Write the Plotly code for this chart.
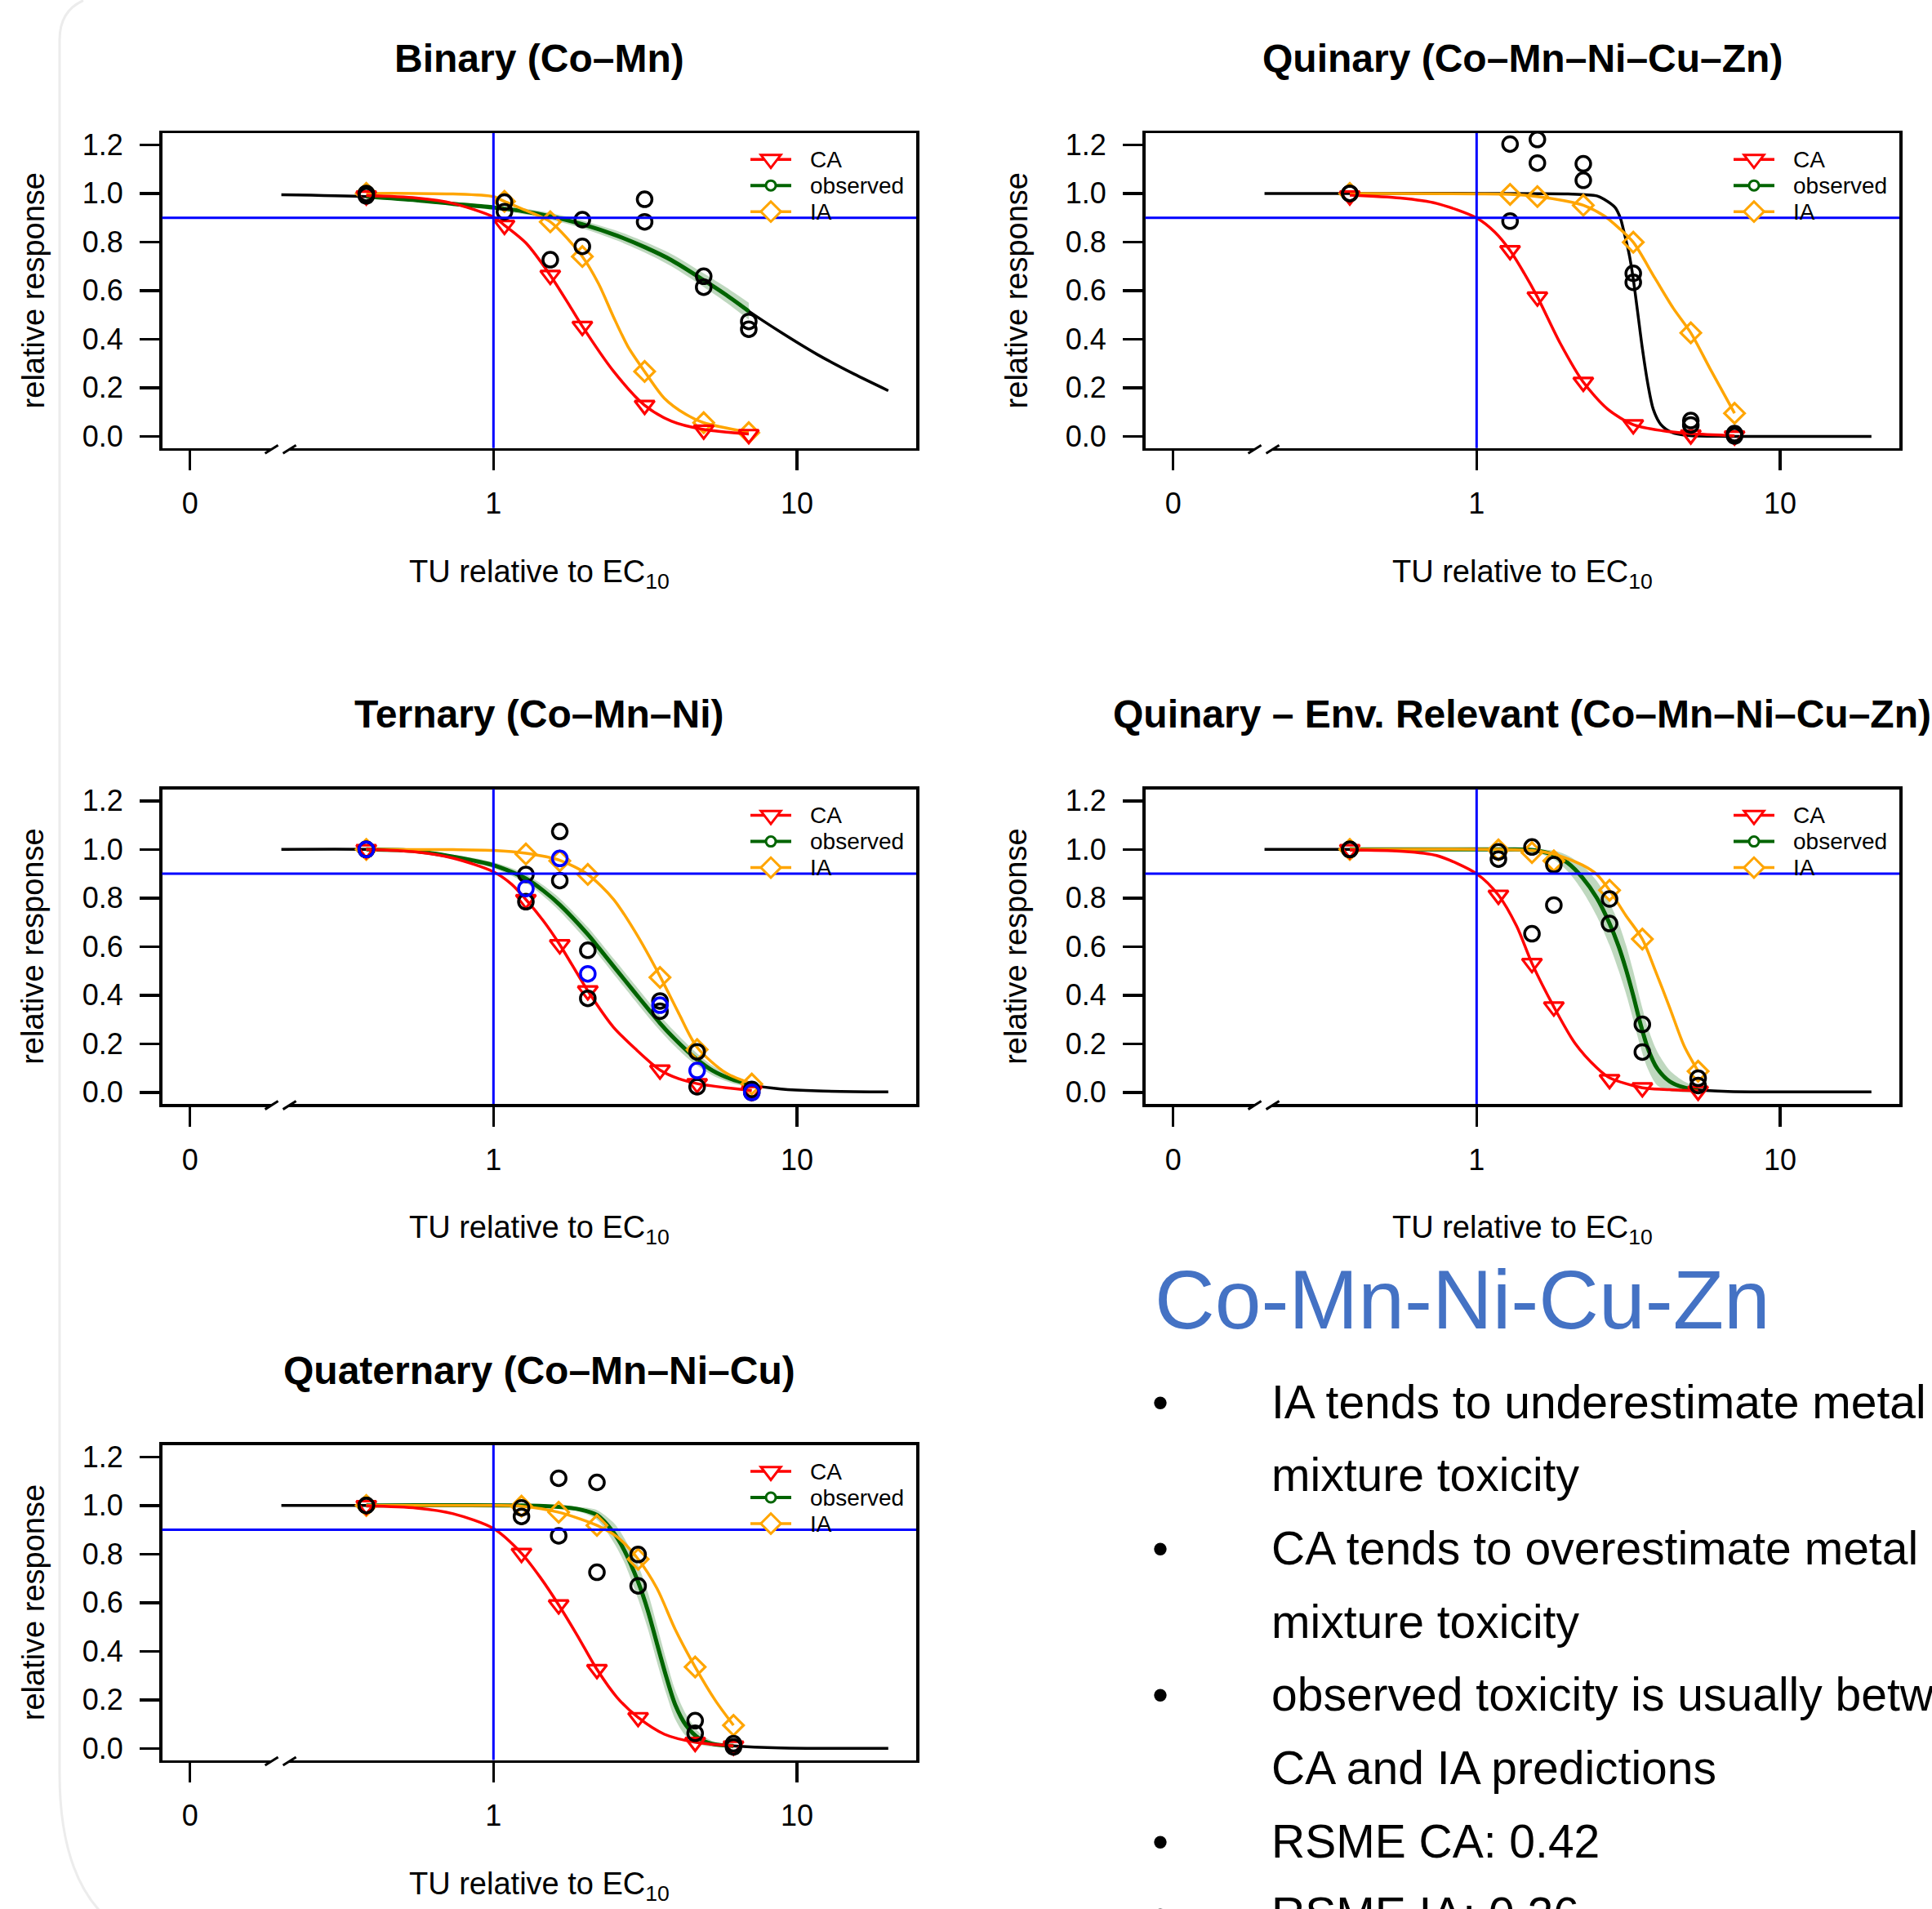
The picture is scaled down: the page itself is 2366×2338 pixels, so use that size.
import math
import plotly.graph_objects as go

W, H = 2366, 2338
# the photographed page is slightly squeezed vertically; pre-compensate (measured)
Y_SCALE, Y_OFF = 0.9942, 5.4

# ---------------- data ----------------
# x = TU relative to EC10, y = relative response

# Binary (Co-Mn)
bin_conc = [0.381, 1.087, 1.539, 1.963, 3.149, 4.93, 6.94]
bin_ca = [0.99, 0.869, 0.663, 0.453, 0.128, 0.026, 0.008]
bin_ia = [1.0, 0.967, 0.883, 0.74, 0.267, 0.056, 0.015]
bin_obs_x = [0.381, 0.381, 1.087, 1.087, 1.539, 1.963, 1.963, 3.149, 3.149, 4.93, 4.93, 6.94, 6.94]
bin_obs_y = [1.0, 0.99, 0.964, 0.925, 0.727, 0.892, 0.782, 0.976, 0.883, 0.659, 0.614, 0.473, 0.441]
bin_ca_cx = [0.381, 0.558, 0.736, 1.0, 1.087, 1.279, 1.539, 1.782, 1.963, 2.483, 3.149, 3.864, 4.93, 6.94]
bin_ca_cy = [0.991, 0.981, 0.959, 0.903, 0.869, 0.796, 0.663, 0.538, 0.453, 0.269, 0.128, 0.062, 0.028, 0.01]
bin_ia_cx = [0.381, 0.736, 1.0, 1.087, 1.279, 1.539, 1.963, 2.22, 2.483, 2.773, 3.149, 3.655, 4.31, 4.93, 6.94]
bin_ia_cy = [1.0, 0.998, 0.987, 0.967, 0.93, 0.883, 0.74, 0.628, 0.493, 0.37, 0.267, 0.157, 0.09, 0.056, 0.017]
bin_fit_x = [0.2, 0.381, 0.558, 0.736, 1.0, 1.279, 1.539, 1.963, 2.553, 3.149, 3.864, 4.93, 5.85, 6.94,
             8.86, 11.67, 15.4, 20.0]
bin_fit_y = [0.995, 0.987, 0.972, 0.957, 0.942, 0.925, 0.906, 0.873, 0.826, 0.779, 0.725, 0.643, 0.582, 0.515,
             0.428, 0.337, 0.257, 0.188]
bin_band_lo = [0.982, 0.966, 0.949, 0.932, 0.913, 0.892, 0.857, 0.806, 0.757, 0.70, 0.615, 0.551, 0.48]
bin_band_hi = [0.992, 0.978, 0.965, 0.952, 0.937, 0.92, 0.889, 0.846, 0.801, 0.75, 0.671, 0.613, 0.55]

# Quinary (Co-Mn-Ni-Cu-Zn)
qui_conc = [0.382, 1.289, 1.586, 2.247, 3.283, 5.08, 7.08]
qui_ca = [0.99, 0.765, 0.574, 0.223, 0.048, 0.006, 0.002]
qui_ia = [1.0, 0.996, 0.987, 0.951, 0.799, 0.426, 0.095]
qui_obs_x = [0.382, 0.382, 1.289, 1.289, 1.586, 1.586, 2.247, 2.247, 3.283, 3.283, 5.08, 5.08, 7.08, 7.08]
qui_obs_y = [1.0, 1.0, 1.203, 0.886, 1.222, 1.125, 1.122, 1.054, 0.671, 0.634, 0.065, 0.047, 0.011, 0.002]
qui_ca_cx = [0.382, 0.56, 0.738, 1.0, 1.148, 1.289, 1.432, 1.586, 1.888, 2.247, 2.704, 3.283, 4.10, 5.08, 7.08]
qui_ca_cy = [0.993, 0.981, 0.959, 0.899, 0.841, 0.765, 0.673, 0.574, 0.382, 0.223, 0.112, 0.048, 0.023, 0.011, 0.002]
qui_ia_cx = [0.382, 1.0, 1.289, 1.586, 1.94, 2.247, 2.63, 2.94, 3.283, 3.87, 4.45, 5.08, 5.87, 7.08]
qui_ia_cy = [1.0, 0.998, 0.996, 0.987, 0.970, 0.951, 0.908, 0.858, 0.799, 0.651, 0.527, 0.426, 0.28, 0.095]
qui_fit_x = [0.2, 0.5, 1.0, 2.0, 2.49, 2.63, 2.86, 2.98, 3.06, 3.18, 3.28, 3.39, 3.52, 3.67, 3.82, 4.04,
             4.39, 4.97, 6.74, 20.0]
qui_fit_y = [1.0, 1.0, 1.0, 0.998, 0.99, 0.976, 0.942, 0.897, 0.841, 0.751, 0.651, 0.516, 0.359, 0.213, 0.112,
             0.050, 0.017, 0.004, 0.0, 0.0]

# Ternary (Co-Mn-Ni)
ter_conc = [0.381, 1.279, 1.654, 2.046, 3.538, 4.69, 7.10]
ter_ca = [1.0, 0.794, 0.608, 0.418, 0.092, 0.036, 0.005]
ter_ia = [1.0, 0.981, 0.953, 0.897, 0.473, 0.176, 0.034]
ter_obs_x = [0.381, 0.381, 1.279, 1.279, 1.654, 1.654, 2.046, 2.046, 3.538, 3.538, 4.69, 4.69, 7.10, 7.10]
ter_obs_y = [1.0, 1.0, 0.897, 0.785, 1.074, 0.872, 0.585, 0.387, 0.376, 0.334, 0.167, 0.023, 0.012, 0.0]
ter_obs2_x = [0.381, 1.279, 1.654, 2.046, 3.538, 4.69, 7.10]
ter_obs2_y = [1.0, 0.839, 0.963, 0.488, 0.359, 0.090, 0.0]
ter_ca_cx = [0.381, 0.558, 0.736, 1.0, 1.145, 1.279, 1.46, 1.654, 2.046, 2.483, 2.93, 3.538, 4.08, 4.69,
             5.85, 7.10]
ter_ca_cy = [1.0, 0.989, 0.964, 0.908, 0.858, 0.794, 0.706, 0.608, 0.418, 0.269, 0.18, 0.092, 0.056, 0.036,
             0.019, 0.008]
ter_ia_cx = [0.381, 0.736, 1.0, 1.279, 1.654, 2.046, 2.483, 2.93, 3.538, 4.08, 4.69, 5.85, 7.10]
ter_ia_cy = [1.0, 0.999, 0.996, 0.984, 0.955, 0.897, 0.796, 0.661, 0.478, 0.325, 0.185, 0.079, 0.036]
ter_fit_x = [0.2, 0.381, 0.558, 0.736, 1.0, 1.279, 1.46, 1.654, 2.046, 2.23, 2.54, 2.84, 3.30, 3.538,
             3.87, 4.37, 4.69, 5.27, 6.07, 7.10, 8.86, 11.67, 20.0]
ter_fit_y = [1.0, 1.0, 0.993, 0.97, 0.935, 0.88, 0.83, 0.772, 0.65, 0.593, 0.505, 0.43, 0.33, 0.285,
             0.232, 0.168, 0.135, 0.09, 0.055, 0.03, 0.014, 0.006, 0.002]
ter_band_lo = [0.998, 0.989, 0.962, 0.923, 0.862, 0.808, 0.746, 0.62, 0.562, 0.473, 0.398, 0.298, 0.254,
               0.202, 0.14, 0.11, 0.07, 0.039, 0.018]
ter_band_hi = [1.0, 0.997, 0.978, 0.947, 0.898, 0.852, 0.798, 0.68, 0.624, 0.537, 0.462, 0.362, 0.316,
               0.262, 0.196, 0.16, 0.11, 0.071, 0.042]

# Quinary - Env. Relevant (Co-Mn-Ni-Cu-Zn)
env_conc = [0.382, 1.18, 1.522, 1.797, 2.742, 3.517, 5.37]
env_ca = [1.0, 0.812, 0.531, 0.352, 0.053, 0.019, 0.005]
env_ia = [1.0, 0.998, 0.987, 0.953, 0.832, 0.631, 0.087]
env_obs_x = [0.382, 0.382, 1.18, 1.18, 1.522, 1.522, 1.797, 1.797, 2.742, 2.742, 3.517, 3.517, 5.37, 5.37]
env_obs_y = [1.0, 1.0, 0.99, 0.96, 1.01, 0.653, 0.937, 0.771, 0.796, 0.695, 0.28, 0.166, 0.058, 0.028]
env_ca_cx = [0.382, 0.56, 0.738, 1.0, 1.18, 1.355, 1.522, 1.797, 2.11, 2.49, 2.742, 3.517, 4.33, 5.37]
env_ca_cy = [0.998, 0.993, 0.975, 0.9, 0.812, 0.684, 0.531, 0.352, 0.202, 0.101, 0.06, 0.019, 0.011, 0.006]
env_ia_cx = [0.382, 1.18, 1.522, 1.797, 2.23, 2.49, 2.742, 3.10, 3.517, 3.87, 4.33, 4.83, 5.37]
env_ia_cy = [1.0, 1.0, 0.996, 0.981, 0.936, 0.897, 0.832, 0.729, 0.631, 0.505, 0.348, 0.191, 0.087]
env_fit_x = [0.2, 0.382, 1.18, 1.522, 1.797, 1.995, 2.23, 2.49, 2.742, 2.94, 3.10, 3.28, 3.47, 3.67, 3.93,
             4.33, 4.83, 5.37, 6.73, 20.0]
env_fit_y = [1.0, 1.0, 1.0, 0.998, 0.978, 0.945, 0.885, 0.80, 0.695, 0.60, 0.51, 0.40, 0.28, 0.18, 0.10,
             0.045, 0.02, 0.01, 0.004, 0.002]
env_band_lo = [1.0, 0.999, 0.993, 0.958, 0.91, 0.83, 0.725, 0.605, 0.50, 0.41, 0.30, 0.185, 0.095, 0.03,
               0.005, 0.0, 0.0]
env_band_hi = [1.0, 1.0, 1.0, 0.995, 0.975, 0.935, 0.87, 0.78, 0.695, 0.61, 0.50, 0.375, 0.265, 0.17,
               0.09, 0.045, 0.022]

# Quaternary (Co-Mn-Ni-Cu)
qua_conc = [0.381, 1.237, 1.640, 2.193, 2.997, 4.62, 6.18]
qua_ca = [1.0, 0.803, 0.591, 0.325, 0.127, 0.025, 0.01]
qua_ia = [1.0, 0.997, 0.972, 0.918, 0.779, 0.335, 0.095]
qua_obs_x = [0.381, 0.381, 1.237, 1.237, 1.640, 1.640, 2.193, 2.193, 2.997, 2.997, 4.62, 4.62, 6.18, 6.18]
qua_obs_y = [1.0, 1.0, 0.99, 0.955, 1.112, 0.875, 1.095, 0.725, 0.798, 0.669, 0.114, 0.062, 0.019, 0.006]
qua_ca_cx = [0.381, 0.558, 0.736, 1.0, 1.237, 1.428, 1.640, 1.883, 2.193, 2.553, 2.997, 3.66, 4.62, 6.18]
qua_ca_cy = [0.998, 0.989, 0.966, 0.905, 0.803, 0.703, 0.591, 0.468, 0.325, 0.21, 0.127, 0.058, 0.025, 0.01]
qua_ia_cx = [0.381, 1.0, 1.237, 1.640, 2.193, 2.553, 2.997, 3.46, 3.97, 4.62, 5.38, 6.18]
qua_ia_cy = [1.0, 1.0, 0.997, 0.972, 0.918, 0.871, 0.779, 0.658, 0.49, 0.335, 0.198, 0.095]
qua_fit_x = [0.2, 0.381, 1.237, 1.640, 1.935, 2.193, 2.483, 2.70, 2.997, 3.23, 3.46, 3.71, 3.97, 4.31, 4.75,
             5.24, 6.18, 8.86, 20.0]
qua_fit_y = [1.0, 1.0, 1.0, 0.994, 0.983, 0.961, 0.89, 0.815, 0.685, 0.565, 0.43, 0.295, 0.18, 0.095, 0.042,
             0.019, 0.01, 0.002, 0.0]
qua_band_lo = [1.0, 0.999, 0.989, 0.973, 0.941, 0.85, 0.765, 0.615, 0.49, 0.355, 0.225, 0.12, 0.05, 0.017,
               0.007, 0.005]
qua_band_hi = [1.0, 1.0, 0.999, 0.993, 0.981, 0.93, 0.865, 0.755, 0.64, 0.505, 0.365, 0.24, 0.14, 0.067,
               0.031, 0.015]

# axes / labels
X_TICKS = [0.1, 1, 10]
X_TICKTEXT = ["0", "1", "10"]
Y_TICKS = [0.0, 0.2, 0.4, 0.6, 0.8, 1.0, 1.2]
Y_TICKTEXT = ["0.0", "0.2", "0.4", "0.6", "0.8", "1.0", "1.2"]
X_LIMITS = [0.1, 20.0]
Y_LIMITS = [0.0, 1.2]
EC10_AT = 1.0
RESPONSE_90 = 0.9
BREAK_AT = 0.2
LEGEND_LABELS = ["CA", "observed", "IA"]

summary_title = "Co-Mn-Ni-Cu-Zn"
summary_lines = ["IA tends to underestimate metal", "mixture toxicity",
                 "CA tends to overestimate metal", "mixture toxicity",
                 "observed toxicity is usually between", "CA and IA predictions",
                 "RSME CA: 0.42", "RSME IA: 0.26"]
summary_bullet = [True, False, True, False, True, False, True, True]

# ---------------- styling ----------------
FONT = "Liberation Sans, Arial, Helvetica, sans-serif"
TFONT = "Liberation Sans, Arial, sans-serif"
RED, ORANGE, GREEN, BLUE = "#FF0000", "#FFA500", "#006400", "#0000FF"
BAND = "rgba(0,100,0,0.25)"

COL_X0 = [198.5, 1402.5]
ROW_Y0 = [162.4, 965.3, 1768.2]
BOX_W, BOX_H = 923.5, 385.3

lx0, lx1 = math.log10(X_LIMITS[0]), math.log10(X_LIMITS[1])
XR = [lx0 - 0.04 * (lx1 - lx0), lx1 + 0.04 * (lx1 - lx0)]
YR = [Y_LIMITS[0] - 0.04 * (Y_LIMITS[1] - Y_LIMITS[0]), Y_LIMITS[1] + 0.04 * (Y_LIMITS[1] - Y_LIMITS[0])]

panels = [
    dict(title="Binary (Co–Mn)", col=0, row=0, conc=bin_conc, ca=bin_ca, ia=bin_ia,
         obs_x=bin_obs_x, obs_y=bin_obs_y, obs2_x=[], obs2_y=[],
         ca_cx=bin_ca_cx, ca_cy=bin_ca_cy, ia_cx=bin_ia_cx, ia_cy=bin_ia_cy,
         fit_x=bin_fit_x, fit_y=bin_fit_y, band_lo=bin_band_lo, band_hi=bin_band_hi, green=True),
    dict(title="Quinary (Co–Mn–Ni–Cu–Zn)", col=1, row=0, conc=qui_conc, ca=qui_ca, ia=qui_ia,
         obs_x=qui_obs_x, obs_y=qui_obs_y, obs2_x=[], obs2_y=[],
         ca_cx=qui_ca_cx, ca_cy=qui_ca_cy, ia_cx=qui_ia_cx, ia_cy=qui_ia_cy,
         fit_x=qui_fit_x, fit_y=qui_fit_y, band_lo=[], band_hi=[], green=False),
    dict(title="Ternary (Co–Mn–Ni)", col=0, row=1, conc=ter_conc, ca=ter_ca, ia=ter_ia,
         obs_x=ter_obs_x, obs_y=ter_obs_y, obs2_x=ter_obs2_x, obs2_y=ter_obs2_y,
         ca_cx=ter_ca_cx, ca_cy=ter_ca_cy, ia_cx=ter_ia_cx, ia_cy=ter_ia_cy,
         fit_x=ter_fit_x, fit_y=ter_fit_y, band_lo=ter_band_lo, band_hi=ter_band_hi, green=True),
    dict(title="Quinary – Env. Relevant (Co–Mn–Ni–Cu–Zn)", col=1, row=1, conc=env_conc, ca=env_ca, ia=env_ia,
         obs_x=env_obs_x, obs_y=env_obs_y, obs2_x=[], obs2_y=[],
         ca_cx=env_ca_cx, ca_cy=env_ca_cy, ia_cx=env_ia_cx, ia_cy=env_ia_cy,
         fit_x=env_fit_x, fit_y=env_fit_y, band_lo=env_band_lo, band_hi=env_band_hi, green=True),
    dict(title="Quaternary (Co–Mn–Ni–Cu)", col=0, row=2, conc=qua_conc, ca=qua_ca, ia=qua_ia,
         obs_x=qua_obs_x, obs_y=qua_obs_y, obs2_x=[], obs2_y=[],
         ca_cx=qua_ca_cx, ca_cy=qua_ca_cy, ia_cx=qua_ia_cx, ia_cy=qua_ia_cy,
         fit_x=qua_fit_x, fit_y=qua_fit_y, band_lo=qua_band_lo, band_hi=qua_band_hi, green=True),
]


# target image pixel -> paper fraction
def PX(px):
    return px / W


def PY(py):
    return 1 - ((py - Y_OFF) / Y_SCALE) / H


shapes = []
annotations = []


def seg(x0, y0, x1, y1, color, width):
    shapes.append(dict(type="line", xref="paper", yref="paper", x0=PX(x0), y0=PY(y0), x1=PX(x1), y1=PY(y1),
                       line=dict(color=color, width=width), layer="above"))


def poly(pts, color, width, fill="rgba(0,0,0,0)"):
    d = "M " + " L ".join(f"{PX(a):.6f},{PY(b):.6f}" for a, b in pts) + " Z"
    shapes.append(dict(type="path", xref="paper", yref="paper", path=d,
                       line=dict(color=color, width=width), fillcolor=fill, layer="above"))


def text(x, y, s, size, color="black", weight="normal", xanchor="center", yanchor="middle", angle=0,
         family=FONT):
    annotations.append(dict(x=PX(x), y=PY(y), xref="paper", yref="paper", text=s, showarrow=False,
                            xanchor=xanchor, yanchor=yanchor, textangle=angle,
                            font=dict(family=family, size=size, color=color, weight=weight)))


fig = go.Figure()
layout_axes = {}
SPL = dict(shape="spline", smoothing=0.8)

for i, p in enumerate(panels, start=1):
    xa = "x" if i == 1 else f"x{i}"
    ya = "y" if i == 1 else f"y{i}"
    bx0 = COL_X0[p["col"]]
    by0 = ROW_Y0[p["row"]]
    bx1, by1 = bx0 + BOX_W, by0 + BOX_H

    def xpix(v, bx0=bx0):
        return bx0 + (math.log10(v) - XR[0]) / (XR[1] - XR[0]) * BOX_W

    def ypix(v, by0=by0):
        return by0 + (YR[1] - v) / (YR[1] - YR[0]) * BOX_H

    common = dict(xaxis=xa, yaxis=ya, showlegend=False, hoverinfo="skip")
    lo_c, hi_c = p["conc"][0], p["conc"][-1]
    gx = [x for x in p["fit_x"] if lo_c <= x <= hi_c]
    gy = [y for x, y in zip(p["fit_x"], p["fit_y"]) if lo_c <= x <= hi_c]

    if p["band_lo"]:
        fig.add_trace(go.Scatter(x=gx, y=p["band_lo"], mode="lines",
                                 line=dict(width=0, color=BAND, **SPL), **common))
        fig.add_trace(go.Scatter(x=gx, y=p["band_hi"], mode="lines", fill="tonexty", fillcolor=BAND,
                                 line=dict(width=0, color=BAND, **SPL), **common))
    fig.add_trace(go.Scatter(x=p["fit_x"], y=p["fit_y"], mode="lines",
                             line=dict(color="black", width=3.5, **SPL), **common))
    if p["green"]:
        fig.add_trace(go.Scatter(x=gx, y=gy, mode="lines",
                                 line=dict(color=GREEN, width=5, **SPL), **common))
    # IA prediction
    fig.add_trace(go.Scatter(x=p["ia_cx"], y=p["ia_cy"], mode="lines",
                             line=dict(color=ORANGE, width=3.5, **SPL), **common))
    fig.add_trace(go.Scatter(x=p["conc"], y=p["ia"], mode="markers",
                             marker=dict(symbol="diamond-open", size=19, color=ORANGE, line=dict(width=3.2)),
                             **common))
    # CA prediction
    fig.add_trace(go.Scatter(x=p["ca_cx"], y=p["ca_cy"], mode="lines",
                             line=dict(color=RED, width=3.5, **SPL), **common))
    fig.add_trace(go.Scatter(x=p["conc"], y=p["ca"], mode="markers",
                             marker=dict(symbol="triangle-down-open", size=21, color=RED, line=dict(width=3.2)),
                             **common))
    # observations
    fig.add_trace(go.Scatter(x=p["obs_x"], y=p["obs_y"], mode="markers",
                             marker=dict(symbol="circle-open", size=18, color="black", line=dict(width=3.5)),
                             **common))
    if p["obs2_x"]:
        fig.add_trace(go.Scatter(x=p["obs2_x"], y=p["obs2_y"], mode="markers",
                                 marker=dict(symbol="circle-open", size=18, color=BLUE, line=dict(width=3.5)),
                                 **common))

    dom_x = [PX(bx0), PX(bx1)]
    dom_y = [PY(by1), PY(by0)]
    axis_common = dict(showline=True, linecolor="black", linewidth=3.5, mirror=True, ticks="outside",
                       ticklen=24, tickwidth=3.5, tickcolor="black", showgrid=False, zeroline=False,
                       tickfont=dict(family=FONT, size=36, color="black"), fixedrange=True)
    layout_axes["xaxis" if i == 1 else f"xaxis{i}"] = dict(
        domain=dom_x, anchor=ya, type="log", range=XR, tickmode="array", tickvals=X_TICKS,
        ticktext=X_TICKTEXT, ticklabelstandoff=10, **axis_common)
    layout_axes["yaxis" if i == 1 else f"yaxis{i}"] = dict(
        domain=dom_y, anchor=xa, range=YR, tickmode="array", tickvals=Y_TICKS,
        ticktext=Y_TICKTEXT, ticklabelstandoff=13, **axis_common)

    # reference lines (EC10 and 90 % response)
    seg(xpix(EC10_AT), by0, xpix(EC10_AT), by1, BLUE, 3)
    seg(bx0, ypix(RESPONSE_90), bx1, ypix(RESPONSE_90), BLUE, 3)

    # axis break on the x axis
    bk = xpix(BREAK_AT)
    yb = by1 + 1.5
    poly([(bk - 20, yb + 5), (bk - 4, yb - 5), (bk + 18, yb - 5), (bk + 2, yb + 5)], "white", 0, "white")
    seg(bk - 20, yb + 5, bk - 4, yb - 5, "black", 3)
    seg(bk + 2, yb + 5, bk + 18, yb - 5, "black", 3)

    # legend (top-right inside box)
    lcolors = [RED, GREEN, ORANGE]
    for k, lab in enumerate(LEGEND_LABELS):
        ly = by0 + 32 * (k + 1)
        seg(bx1 - 203, ly, bx1 - 153, ly, lcolors[k], 4 if k == 1 else 3.5)
        mx = bx1 - 178
        if k == 0:
            r = 10.5
            rt = r * 2 / math.sqrt(3)
            poly([(mx - rt, ly - r / 2), (mx + rt, ly - r / 2), (mx, ly + r)], RED, 3, "white")
        elif k == 1:
            shapes.append(dict(type="circle", xref="paper", yref="paper", x0=PX(mx - 6), x1=PX(mx + 6),
                               y0=PY(ly + 6), y1=PY(ly - 6), line=dict(color=GREEN, width=3),
                               fillcolor="white", layer="above"))
        else:
            rd = 12.3
            poly([(mx + rd, ly), (mx, ly - rd), (mx - rd, ly), (mx, ly + rd)], ORANGE, 3, "white")
        text(bx1 - 132, ly, lab, 28, xanchor="left")

    cx = (bx0 + bx1) / 2
    text(cx, by0 - 91.5, p["title"], 48, weight="bold")
    text(cx, by1 + 154, "TU relative to EC<sub>10</sub>", 38)
    text(bx0 - 158, (by0 + by1) / 2, "relative response", 38, angle=-90)

# summary text block
HEAD_SIZE, LINE_SIZE = 102, 57
text(1412, 1590, summary_title, HEAD_SIZE, color="#4472C4", xanchor="left", family=TFONT)
for k, (ln, bul) in enumerate(zip(summary_lines, summary_bullet)):
    yc = 1715 + 89.6 * k
    if bul:
        text(1421, yc, "•", LINE_SIZE, xanchor="center", family=TFONT)
    text(1555, yc, ln, LINE_SIZE, xanchor="left", family=TFONT)

# faint card edge on the left
card = (f"M {PX(102):.5f},{PY(0):.5f} C {PX(84):.5f},{PY(8):.5f} {PX(73):.5f},{PY(22):.5f} "
        f"{PX(73):.5f},{PY(48):.5f} L {PX(73):.5f},{PY(2170):.5f} "
        f"C {PX(73):.5f},{PY(2250):.5f} {PX(92):.5f},{PY(2305):.5f} {PX(122):.5f},{PY(2338):.5f}")
shapes.insert(0, dict(type="path", xref="paper", yref="paper", path=card,
                      line=dict(color="rgb(236,236,236)", width=3), layer="below"))

fig.update_layout(width=W, height=H, autosize=False, margin=dict(l=0, r=0, t=0, b=0),
                  paper_bgcolor="white", plot_bgcolor="rgba(0,0,0,0)", showlegend=False,
                  hovermode=False, font=dict(family=FONT, color="black"),
                  shapes=shapes, annotations=annotations, **layout_axes)

# pin the figure to the page's top-left corner so it fills the window exactly
PIN_JS = ("document.documentElement.style.overflow='hidden';"
          "document.body.style.margin='0';document.body.style.overflow='hidden';"
          "var gd=document.getElementById('{plot_id}');"
          "gd.style.position='absolute';gd.style.left='0px';gd.style.top='0px';")
fig.write_html("out.html", post_script=PIN_JS, config={"displayModeBar": False, "staticPlot": True})
